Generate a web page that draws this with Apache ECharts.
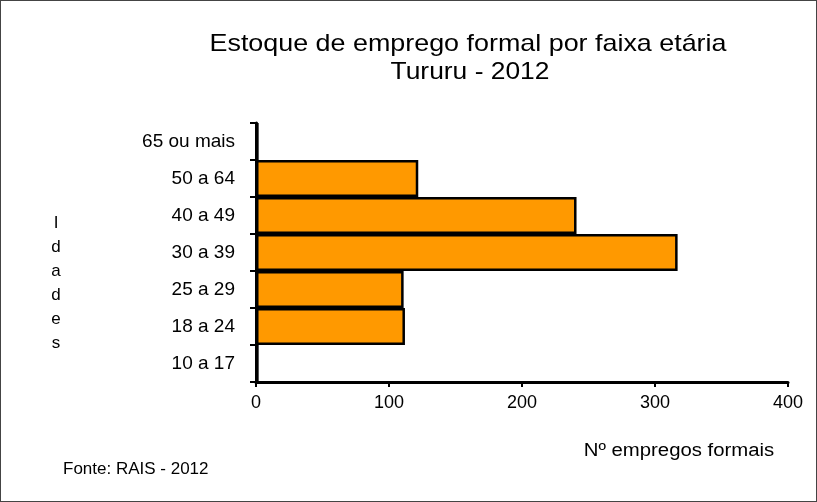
<!DOCTYPE html>
<html><head><meta charset="utf-8">
<script src="https://cdn.jsdelivr.net/npm/echarts@6/dist/echarts.min.js"></script>
<style>
html,body{margin:0;padding:0;background:#fff;}
#c{width:817px;height:502px;box-sizing:border-box;border:1px solid #444;}
</style></head>
<body><div id="c"></div>
<script>
const categories = ["10 a 17","18 a 24","25 a 29","30 a 39","40 a 49","50 a 64","65 ou mais"];
const values = [2, 112, 111, 317, 241, 122, 2];
const xTicks = [0, 100, 200, 300, 400];
const titleLines = ["Estoque de emprego formal por faixa etária", "Tururu - 2012"];
const xName = "Nº empregos formais";
const yName = "Idades";
const source = "Fonte: RAIS - 2012";

const chart = echarts.init(document.getElementById('c'), null, {renderer:'canvas'});
const ff = '"Liberation Sans", Arial, sans-serif';
chart.setOption({
  animation:false,
  grid:{left:255, right:28, top:122, bottom:119, containLabel:false},
  xAxis:{type:'value', min:xTicks[0], max:xTicks[xTicks.length-1], interval:100,
    axisLine:{show:true, lineStyle:{color:'#000', width:3}},
    axisTick:{show:true, inside:false, length:5, lineStyle:{color:'#000', width:2}},
    splitLine:{show:false},
    axisLabel:{color:'#000', fontFamily:ff, fontSize:18, margin:12}
  },
  yAxis:{type:'category', data:categories,
    axisLine:{show:true, lineStyle:{color:'#000', width:3}},
    axisTick:{show:true, alignWithLabel:false, inside:false, length:6, lineStyle:{color:'#000', width:2}},
    axisLabel:{color:'#000', fontFamily:ff, fontSize:19, margin:21}
  },
  series:[{type:'bar', data:values, barWidth:'100%', barCategoryGap:'0%',
    itemStyle:{color:'#FF9900', borderColor:'#000', borderWidth:2.5},
    z:1
  }],
  graphic:[
    {type:'text', x:467, y:31, scaleX:1.12, style:{text:titleLines[0], font:'24px '+ff, fill:'#000', textAlign:'center'}},
    {type:'text', x:469, y:59, scaleX:1.1, style:{text:titleLines[1], font:'24px '+ff, fill:'#000', textAlign:'center'}},
    {type:'text', x:678, y:441, scaleX:1.13, style:{text:xName, font:'18px '+ff, fill:'#000', textAlign:'center'}},
    {type:'text', x:55, y:210, style:{text:yName.split('').join('\n'), font:'17px '+ff, fill:'#000', textAlign:'center', lineHeight:24}},
    {type:'text', x:62, y:460, style:{text:source, font:'17px '+ff, fill:'#000'}}
  ]
});
</script></body></html>
